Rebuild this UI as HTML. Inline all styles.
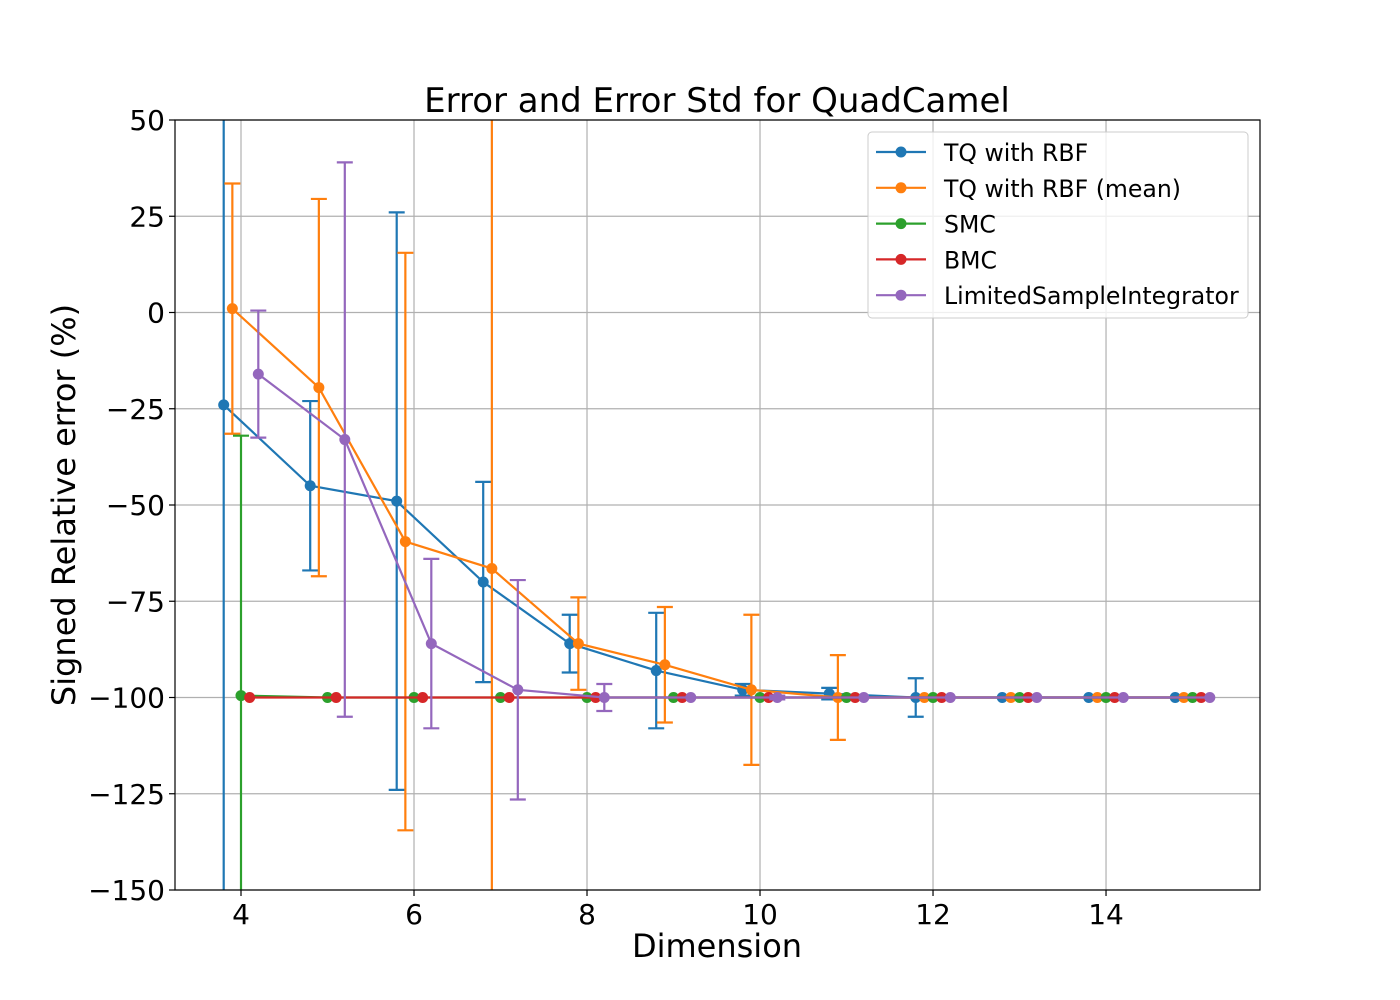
<!DOCTYPE html>
<html><head><meta charset="utf-8"><style>
html,body{margin:0;background:#fff;width:1400px;height:1000px;overflow:hidden;}
svg{display:block;}
svg text{font-family:"DejaVu Sans","Liberation Sans",sans-serif;}
</style></head><body>
<svg id="chart" width="1400" height="1000" xmlns="http://www.w3.org/2000/svg">
<rect width="1400" height="1000" fill="#fff"/>
<g id="grid"></g>
<g id="series"></g>
<rect x="175" y="120" width="1085" height="770" fill="none" stroke="#000" stroke-width="1.2"/>
<g id="ticks"></g>
<text x="717" y="112" font-size="34" text-anchor="middle">Error and Error Std for QuadCamel</text>
<text x="717" y="957" font-size="32" text-anchor="middle">Dimension</text>
<text transform="translate(75,505) rotate(-90)" font-size="32" text-anchor="middle">Signed Relative error (%)</text>
<g id="legend"></g>
</svg>
<script>
const dims = [4,5,6,7,8,9,10,11,12,13,14,15];
const seriesNames = ["TQ with RBF","TQ with RBF (mean)","SMC","BMC","LimitedSampleIntegrator"];
const colors = ["#1f77b4","#ff7f0e","#2ca02c","#d62728","#9467bd"];
const offsets = [-0.2,-0.1,0,0.1,0.2];
const tqVals = [-24,-45,-49,-70,-86,-93,-98,-99,-100,-100,-100,-100];
const tqStd = [300,22,75,26,7.5,15,1.5,1.5,5,0,0,0];
const tqMeanVals = [1,-19.5,-59.5,-66.5,-86,-91.5,-98,-100,-100,-100,-100,-100];
const tqMeanStd = [32.5,49,75,300,12,15,19.5,11,0,0,0,0];
const smcVals = [-99.5,-100,-100,-100,-100,-100,-100,-100,-100,-100,-100,-100];
const smcStd = [67.5,0,0,0,0,0,0,0,0,0,0,0];
const bmcVals = [-100,-100,-100,-100,-100,-100,-100,-100,-100,-100,-100,-100];
const bmcStd = [0,0,0,0,0,0,0,0,0,0,0,0];
const lsiVals = [-16,-33,-86,-98,-100,-100,-100,-100,-100,-100,-100,-100];
const lsiStd = [16.5,72,22,28.5,3.5,0,0.5,0,0,0,0,0];
const xTicks = [4,6,8,10,12,14];
const yTicks = [50,25,0,-25,-50,-75,-100,-125,-150];

const vals=[tqVals,tqMeanVals,smcVals,bmcVals,lsiVals];
const stds=[tqStd,tqMeanStd,smcStd,bmcStd,lsiStd];
const L=175,R=1260,T=120,B=890,xmin=3.237,xmax=15.78,ymin=-150,ymax=50;
const xs=v=>L+(v-xmin)/(xmax-xmin)*(R-L);
const ys=v=>B-(v-ymin)/(ymax-ymin)*(B-T);
const NS="http://www.w3.org/2000/svg";
function mk(tag,attrs,parent){const e=document.createElementNS(NS,tag);for(const k in attrs)e.setAttribute(k,attrs[k]);parent.appendChild(e);return e;}
const grid=document.getElementById('grid'),ticks=document.getElementById('ticks'),ser=document.getElementById('series'),leg=document.getElementById('legend');
xTicks.forEach(t=>{const x=xs(t);
 const g=mk('line',{x1:x,x2:x,y1:T,y2:B,stroke:'#b0b0b0','stroke-width':1.2},grid);
 
 
 mk('line',{x1:x,x2:x,y1:B,y2:B+6,stroke:'#000','stroke-width':1.2},ticks);
 const tx=mk('text',{x:x,y:B+34,'font-size':28,'text-anchor':'middle'},ticks);tx.textContent=t;
 
 
});
yTicks.forEach(t=>{const y=ys(t);
 const g=mk('line',{x1:L,x2:R,y1:y,y2:y,stroke:'#b0b0b0','stroke-width':1.2},grid);
 
 
 mk('line',{x1:L-6,x2:L,y1:y,y2:y,stroke:'#000','stroke-width':1.2},ticks);
 const tx=mk('text',{x:L-10,y:y+10,'font-size':28,'text-anchor':'end'},ticks);tx.textContent=(t<0?'\u2212'+(-t):t);
 
 
});
const clip=mk('clipPath',{id:'pc'},mk('defs',{},document.getElementById('chart')));
mk('rect',{x:L,y:T,width:R-L,height:B-T},clip);
ser.setAttribute('clip-path','url(#pc)');
vals.forEach((v,s)=>{
 const g=mk('g',{},ser);
 
 
 const pts=dims.map((d,i)=>[xs(d+offsets[s]),ys(v[i])]);
 const pl=mk('polyline',{points:pts.map(p=>p.join(',')).join(' '),fill:'none',stroke:colors[s],'stroke-width':2.2},g);
 
 
 dims.forEach((d,i)=>{const x=pts[i][0],sd=stds[s][i];
  if(sd>0){const y1=ys(v[i]+sd),y2=ys(v[i]-sd);
   const eb=mk('path',{d:`M${x},${y1}V${y2}M${x-8},${y1}H${x+8}M${x-8},${y2}H${x+8}`,stroke:colors[s],'stroke-width':2.2,fill:'none'},g);
   
   }
  const c=mk('circle',{cx:x,cy:pts[i][1],r:5.5,fill:colors[s]},g);
  
  
 });
});
mk('rect',{x:868,y:132,width:380,height:186,rx:4,fill:'#fff','fill-opacity':0.8,stroke:'#ccc','stroke-width':1},leg);
seriesNames.forEach((n,i)=>{const y=152+i*35.8;
 const e=mk('g',{},leg);
 
 
 mk('line',{x1:876,x2:926,y1:y,y2:y,stroke:colors[i],'stroke-width':2.2},e);
 mk('circle',{cx:901,cy:y,r:5.5,fill:colors[i]},e);
 const t=mk('text',{x:944,y:y+9,'font-size':23.6},e);t.textContent=n;
});
</script>
</body></html>
